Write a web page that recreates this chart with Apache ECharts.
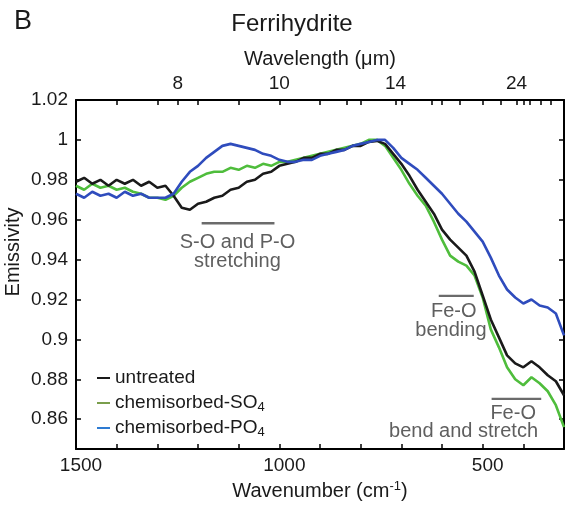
<!DOCTYPE html>
<html>
<head>
<meta charset="utf-8">
<script src="https://cdn.jsdelivr.net/npm/echarts@6/dist/echarts.min.js"></script>
<style>
  html, body { margin: 0; padding: 0; background: #fff; }
  #chart { width: 570px; height: 506px; }
</style>
</head>
<body>
<div id="chart"></div>
<script>
// Emissivity spectra of ferrihydrite (untreated and with chemisorbed oxyanions)
const wavenumber = [1500, 1480, 1460, 1440, 1420, 1400, 1380, 1360, 1340, 1320,
  1300, 1280, 1260, 1240, 1220, 1200, 1180, 1160, 1140, 1120,
  1100, 1080, 1060, 1040, 1020, 1000, 980, 960, 940, 920,
  900, 880, 860, 840, 820, 800, 780, 760, 740, 720,
  700, 680, 660, 640, 620, 600, 580, 560, 540, 520,
  500, 480, 460, 440, 420, 400, 380, 360, 340, 320, 300];

const untreated = [0.979, 0.981, 0.978, 0.980, 0.977, 0.980, 0.978, 0.980, 0.977, 0.979,
  0.976, 0.977, 0.972, 0.966, 0.965, 0.968, 0.969, 0.971, 0.972, 0.975,
  0.976, 0.979, 0.980, 0.983, 0.984, 0.987, 0.988, 0.989, 0.991, 0.991,
  0.993, 0.993, 0.995, 0.995, 0.997, 0.997, 0.999, 0.9995, 0.998, 0.993,
  0.988, 0.982, 0.975, 0.969, 0.963, 0.955, 0.950, 0.946, 0.942, 0.934,
  0.922, 0.910, 0.901, 0.892, 0.888, 0.886, 0.889, 0.886, 0.882, 0.879, 0.872];

const chemisorbedSO4 = [0.977, 0.975, 0.978, 0.976, 0.977, 0.975, 0.976, 0.974, 0.973, 0.971,
  0.971, 0.970, 0.972, 0.976, 0.979, 0.981, 0.983, 0.984, 0.984, 0.986,
  0.985, 0.987, 0.986, 0.988, 0.987, 0.989, 0.989, 0.990, 0.991, 0.992,
  0.993, 0.994, 0.995, 0.996, 0.997, 0.998, 1.000, 1.000, 0.997, 0.991,
  0.985, 0.978, 0.972, 0.967, 0.959, 0.950, 0.942, 0.939, 0.937, 0.932,
  0.921, 0.905, 0.896, 0.886, 0.880, 0.877, 0.881, 0.878, 0.874, 0.867, 0.856];

const chemisorbedPO4 = [0.973, 0.971, 0.974, 0.972, 0.973, 0.971, 0.974, 0.972, 0.973, 0.971,
  0.971, 0.971, 0.973, 0.979, 0.984, 0.987, 0.991, 0.994, 0.997, 0.998,
  0.997, 0.996, 0.995, 0.993, 0.992, 0.990, 0.989, 0.989, 0.990, 0.990,
  0.992, 0.993, 0.994, 0.995, 0.997, 0.998, 0.999, 1.000, 1.000, 0.996,
  0.991, 0.988, 0.985, 0.981, 0.977, 0.973, 0.968, 0.963, 0.959, 0.954,
  0.949, 0.941, 0.932, 0.925, 0.921, 0.918, 0.920, 0.917, 0.916, 0.913, 0.902];

const seriesNames = ['untreated', 'chemisorbed-SO4', 'chemisorbed-PO4'];
const seriesColors = ['#1a1a1a', '#4fbd3c', '#2f4cbd'];
const legendColors = ['#1a1a1a', '#7a9e4c', '#2e7bd2'];

// Bottom axis labels (cm-1)
const wavenumberLabels = [1500, 1000, 500];
// Top axis wavelength labels and minor ticks (µm)
const wavelengthLabels = [8, 10, 14, 24];
const wavelengthTicks = [8, 10, 12, 14, 16, 18, 20, 22, 24, 26, 28, 30];
// Emissivity ticks
const emissivityTicks = [0.86, 0.88, 0.9, 0.92, 0.94, 0.96, 0.98, 1, 1.02];

// Band assignment bars: wavenumber span and emissivity level
const bandBars = [
  { from: 1191, to: 1012, at: 0.9582 },
  { from: 608, to: 522, at: 0.9218 },
  { from: 478, to: 356, at: 0.8702 }
];
// Band assignment labels anchored at (wavenumber, emissivity)
const bandLabels = [
  { text: 'S-O and P-O', wn: 1103, em: 0.9486 },
  { text: 'stretching', wn: 1103, em: 0.9392 },
  { text: 'Fe-O', wn: 571, em: 0.9139 },
  { text: 'bending', wn: 578, em: 0.9044 },
  { text: 'Fe-O', wn: 425, em: 0.8628 },
  { text: 'bend and stretch', wn: 547, em: 0.8538 }
];

const FONT = '"Liberation Sans", Arial, sans-serif';
const wnMin = 300, wnMax = 1500;
const emMin = 0.845, emMax = 1.02;

const toWn = um => 10000 / um;
const bottomTicks = [];
for (let v = wnMin; v <= wnMax; v += 100) bottomTicks.push(v);
const topTicks = bottomTicks.concat(wavelengthTicks.map(toWn)).filter(v => v >= wnMin && v <= wnMax);

const zOrder = [4, 3, 5];
const series = [untreated, chemisorbedSO4, chemisorbedPO4].map((vals, i) => ({
  name: seriesNames[i],
  type: 'line',
  xAxisIndex: 0,
  yAxisIndex: 0,
  showSymbol: false,
  silent: true,
  z: zOrder[i],
  lineStyle: { color: seriesColors[i], width: 2.6 },
  itemStyle: { color: seriesColors[i] },
  data: wavenumber.map((w, k) => [w, vals[k]])
}));

bandBars.forEach((b, i) => {
  series.push({
    name: 'band' + i,
    type: 'line',
    showSymbol: false,
    silent: true,
    z: 6,
    lineStyle: { color: '#6b6b6b', width: 2.4 },
    data: [[b.from, b.at], [b.to, b.at]]
  });
});

const tickStyle = { inside: true, length: 5, lineStyle: { color: '#000', width: 1.5 } };
const lineStyle = { lineStyle: { color: '#000', width: 2 } };

const option = {
  animation: false,
  backgroundColor: '#fff',
  grid: { left: 76, right: 6, top: 100, bottom: 53, containLabel: false },
  legend: {
    orient: 'vertical',
    left: 92,
    top: 362,
    itemWidth: 13,
    itemHeight: 2,
    itemGap: 3,
    selectedMode: false,
    data: seriesNames.map((n, i) => ({ name: n, icon: 'rect', itemStyle: { color: legendColors[i] } })),
    textStyle: {
      fontFamily: FONT, fontSize: 19, color: '#1a1a1a', lineHeight: 22,
      rich: {
        n: { fontFamily: FONT, fontSize: 19, color: '#1a1a1a', lineHeight: 22 },
        s: { fontFamily: FONT, fontSize: 13, color: '#1a1a1a', lineHeight: 13, verticalAlign: 'bottom', padding: [4, 0, 0, 0] }
      }
    },
    formatter: name => {
      const m = name.match(/^(.*-[A-Z]+)(\d)$/);
      return m ? '{n|' + m[1] + '}{s|' + m[2] + '}' : '{n|' + name + '}';
    }
  },
  xAxis: [
    {
      type: 'value', position: 'bottom', min: wnMin, max: wnMax, interval: 100, inverse: true,
      axisLine: lineStyle,
      axisTick: Object.assign({ customValues: bottomTicks }, tickStyle),
      splitLine: { show: false },
      axisLabel: {
        customValues: wavenumberLabels,
        formatter: v => String(v),
        margin: 7, fontFamily: FONT, fontSize: 19, color: '#1a1a1a',
        padding: [0, 0, 0, 10]
      },
      name: '{n|Wavenumber (cm}{p|-1}{n|)}',
      nameLocation: 'middle',
      nameGap: 30,
      nameTextStyle: {
        rich: {
          n: { fontFamily: FONT, fontSize: 20, color: '#1a1a1a', lineHeight: 22 },
          p: { fontFamily: FONT, fontSize: 13, color: '#1a1a1a', lineHeight: 13, verticalAlign: 'top' }
        }
      }
    },
    {
      type: 'value', position: 'top', min: wnMin, max: wnMax, inverse: true,
      axisLine: lineStyle,
      axisTick: Object.assign({ customValues: topTicks }, tickStyle),
      splitLine: { show: false },
      axisLabel: {
        customValues: wavelengthLabels.map(toWn),
        formatter: v => String(Math.round(10000 / v)),
        margin: 7, fontFamily: FONT, fontSize: 19, color: '#1a1a1a'
      },
      name: 'Wavelength (\u03bcm)',
      nameLocation: 'middle',
      nameGap: 30,
      nameTextStyle: { fontFamily: FONT, fontSize: 20, color: '#1a1a1a' }
    }
  ],
  yAxis: [
    {
      type: 'value', position: 'left', min: emMin, max: emMax,
      axisLine: lineStyle,
      axisTick: Object.assign({ customValues: emissivityTicks }, tickStyle),
      splitLine: { show: false },
      axisLabel: {
        customValues: emissivityTicks,
        formatter: v => String(parseFloat(v.toFixed(2))),
        margin: 8, fontFamily: FONT, fontSize: 19, color: '#1a1a1a'
      }
    },
    {
      type: 'value', position: 'right', min: emMin, max: emMax,
      axisLine: lineStyle,
      axisTick: Object.assign({ customValues: emissivityTicks }, tickStyle),
      splitLine: { show: false },
      axisLabel: { show: false }
    }
  ],
  series: series
};

const chart = echarts.init(document.getElementById('chart'), null, { renderer: 'canvas' });
chart.setOption(option);

// Titles, y-axis name and band labels
const graphics = [
  { type: 'text', left: 14, top: 8, style: { text: 'B', font: '27px ' + FONT, fill: '#1a1a1a' } },
  { type: 'text', x: 292, y: 24, style: { text: 'Ferrihydrite', font: '24px ' + FONT, fill: '#1a1a1a', align: 'center', verticalAlign: 'middle' } },
  { type: 'text', x: 13, y: 252, rotation: Math.PI / 2, style: { text: 'Emissivity', font: '20px ' + FONT, fill: '#1a1a1a', align: 'center', verticalAlign: 'middle' } }
];
bandLabels.forEach(l => {
  const p = chart.convertToPixel({ xAxisIndex: 0, yAxisIndex: 0 }, [l.wn, l.em]);
  graphics.push({
    type: 'text', x: p[0], y: p[1], z: 10,
    style: { text: l.text, font: '20px ' + FONT, fill: '#5f5f5f', align: 'center', verticalAlign: 'middle' }
  });
});
chart.setOption({ graphic: graphics });
</script>
</body>
</html>
